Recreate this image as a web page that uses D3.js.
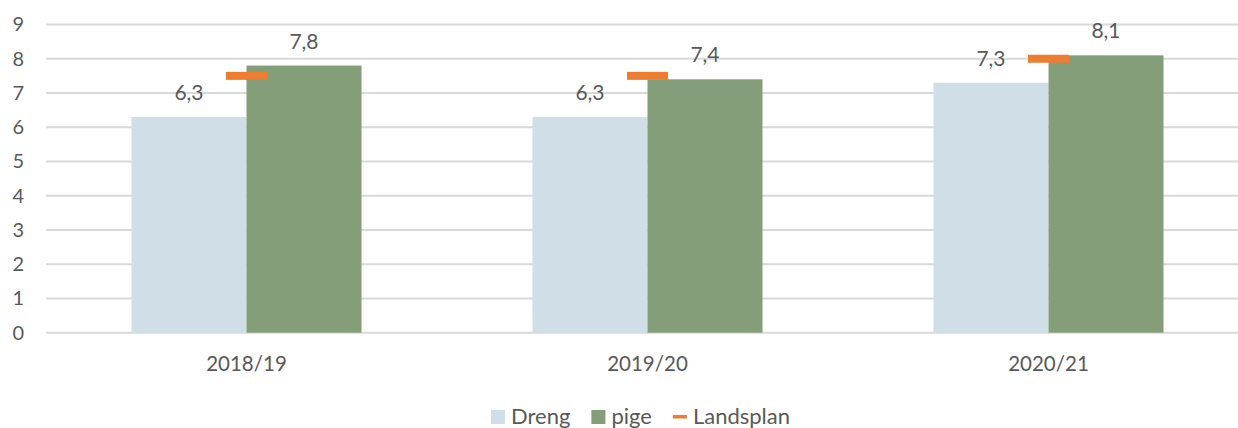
<!DOCTYPE html>
<html lang="da">
<head>
<meta charset="UTF-8">
<title>Dreng / pige</title>
<style>
  body { margin: 0; background: #fff; }
  svg text { font-family: Lato, "Open Sans", sans-serif; fill: #595959; }
</style>
</head>
<body>
<svg id="chart"></svg>
<script src="https://cdn.jsdelivr.net/npm/d3@7"></script>
<script>
// data
var years = ["2018/19", "2019/20", "2020/21"];
var dreng = [6.3, 6.3, 7.3];
var pige = [7.8, 7.4, 8.1];
var landsplan = [7.5, 7.5, 8.0];
var yTicks = [0, 1, 2, 3, 4, 5, 6, 7, 8, 9];
var seriesNames = ["Dreng", "pige", "Landsplan"];
var colors = ["#d0dee7", "#849e79", "#ed7d31"];

var width = 1238, height = 428;
var svg = d3.select("#chart").attr("width", width).attr("height", height);

var x = d3.scaleBand()
    .domain(years)
    .range([46, 1249])
    .paddingInner(0.4264)
    .paddingOuter(0.2132);

var y = d3.scaleLinear().domain([0, 9]).range([332.7, 24.5]);

var sub = d3.scaleBand().domain([0, 1]).range([0, x.bandwidth()]);

// gridlines
svg.append("g").selectAll("line")
    .data(yTicks)
    .enter().append("line")
    .attr("x1", 46).attr("x2", width)
    .attr("y1", function(d) { return y(d); })
    .attr("y2", function(d) { return y(d); })
    .attr("stroke", "#d9d9d9")
    .attr("stroke-width", 2);

// y axis labels
var yAxis = d3.axisLeft(y).tickValues(yTicks).tickSize(0).tickPadding(0);
svg.append("g")
    .attr("transform", "translate(24,0)")
    .call(yAxis)
    .call(function(g) { g.select(".domain").remove(); })
    .selectAll("text")
    .style("font-size", "20px")
    .style("fill", "#595959")
    .style("font-family", "Lato, 'Open Sans', sans-serif");

// x axis labels
var xAxis = d3.axisBottom(x).tickSize(0).tickPadding(0);
svg.append("g")
    .attr("transform", "translate(0,355)")
    .call(xAxis)
    .call(function(g) { g.select(".domain").remove(); })
    .selectAll("text")
    .attr("dy", 0)
    .attr("y", 15.7)
    .style("font-size", "20.5px")
    .style("fill", "#595959")
    .style("font-family", "Lato, 'Open Sans', sans-serif");

// bars
var groups = [dreng, pige];
groups.forEach(function(vals, s) {
    svg.append("g").selectAll("rect")
        .data(vals)
        .enter().append("rect")
        .attr("x", function(d, i) { return x(years[i]) + sub(s); })
        .attr("y", function(d) { return y(d); })
        .attr("width", sub.bandwidth())
        .attr("height", function(d) { return y(0) - y(d); })
        .attr("fill", colors[s]);

    svg.append("g").selectAll("text")
        .data(vals)
        .enter().append("text")
        .attr("x", function(d, i) { return x(years[i]) + sub(s) + sub.bandwidth() / 2; })
        .attr("y", function(d) { return y(d) - 17; })
        .attr("text-anchor", "middle")
        .style("font-size", "21px")
        .text(function(d) { return d.toFixed(1).replace(".", ","); });
});

// landsplan markers
svg.append("g").selectAll("rect")
    .data(landsplan)
    .enter().append("rect")
    .attr("x", function(d, i) { return x(years[i]) + x.bandwidth() / 2 - 20.5; })
    .attr("y", function(d) { return y(d) - 4; })
    .attr("width", 41)
    .attr("height", 8)
    .attr("fill", colors[2]);

// legend
var legend = svg.append("g");
var lx = 0;
seriesNames.forEach(function(name, i) {
    var item = legend.append("g").attr("transform", "translate(" + lx + ",0)");
    if (i < 2) {
        item.append("rect").attr("x", 0).attr("y", 410).attr("width", 14).attr("height", 14)
            .attr("fill", colors[i]);
    } else {
        item.append("rect").attr("x", 0).attr("y", 415).attr("width", 14).attr("height", 3.5)
            .attr("fill", colors[i]);
    }
    var t = item.append("text").attr("x", 20).attr("y", 424)
        .style("font-size", "22px").text(name);
    lx += 20 + t.node().getComputedTextLength() + 21;
});
var lw = lx - 21;
legend.attr("transform", "translate(" + (640.5 - lw / 2) + ",0)");
</script>
</body>
</html>
